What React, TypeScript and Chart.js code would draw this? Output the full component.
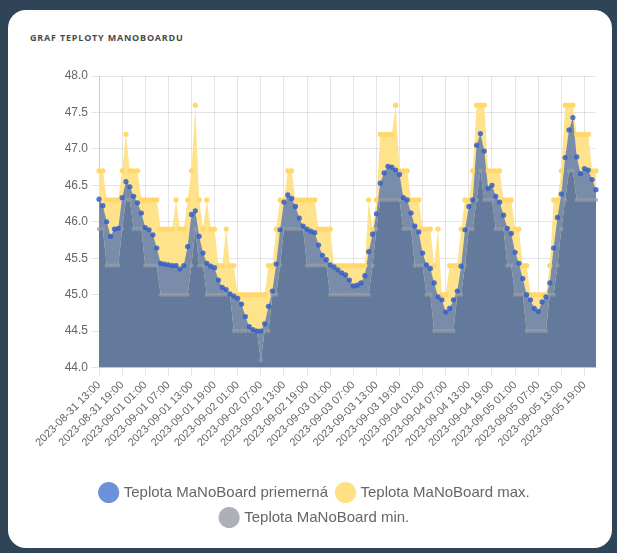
import React, { useEffect, useRef } from 'react';
import { Chart, registerables } from 'chart.js';

Chart.register(...registerables);

// ---- DATA ----
const days: string[] = ['2023-08-31', '2023-09-01', '2023-09-02', '2023-09-03', '2023-09-04', '2023-09-05'];
const startHour = 13;
const pointCount = 130;
const categories: string[] = [];
for (let i = 0; i < pointCount; i++) {
  const h = startHour + i;
  categories.push(`${days[Math.floor(h / 24)]} ${String(h % 24).padStart(2, '0')}:00`);
}

const avgTemp: number[] = [
  46.31, 46.22, 46.0, 45.8, 45.9, 45.91, 46.33, 46.55, 46.48, 46.35,
  46.26, 46.12, 45.92, 45.89, 45.82, 45.64, 45.43, 45.42, 45.41, 45.4,
  45.4, 45.35, 45.4, 45.66, 46.1, 46.15, 45.8, 45.57, 45.43, 45.39,
  45.37, 45.2, 45.1, 45.07, 45.01, 44.98, 44.95, 44.87, 44.7, 44.56,
  44.52, 44.5, 44.5, 44.6, 44.84, 45.05, 45.42, 45.89, 46.27, 46.37,
  46.32, 46.21, 46.05, 45.94, 45.9, 45.87, 45.85, 45.68, 45.54, 45.48,
  45.41, 45.38, 45.34, 45.3, 45.27, 45.2, 45.12, 45.13, 45.16, 45.26,
  45.59, 45.83, 46.11, 46.53, 46.67, 46.76, 46.75, 46.71, 46.65, 46.33,
  46.3, 46.12, 45.94, 45.86, 45.57, 45.41, 45.36, 45.16, 44.97, 44.93,
  44.76, 44.81, 44.93, 45.05, 45.39, 45.89, 46.21, 46.3, 47.05, 47.21,
  46.97, 46.46, 46.5, 46.35, 46.27, 46.09, 45.91, 45.84, 45.58, 45.43,
  45.22, 45.0, 44.93, 44.81, 44.77, 44.9, 44.97, 45.16, 45.64, 46.06,
  46.38, 46.88, 47.26, 47.43, 46.89, 46.66, 46.73, 46.71, 46.58, 46.44,
];

const maxTemp: number[] = [
  46.7, 46.7, 46.3, 46.3, 46.3, 46.3, 46.7, 47.2, 46.7, 46.7,
  46.7, 46.3, 46.3, 46.3, 46.3, 46.3, 45.9, 45.9, 45.9, 45.9,
  46.3, 45.9, 45.9, 46.3, 46.7, 47.6, 46.3, 45.9, 46.3, 45.9,
  45.9, 45.4, 45.4, 45.9, 45.4, 45.4, 45.0, 45.0, 45.0, 45.0,
  45.0, 45.0, 45.0, 45.0, 45.4, 45.4, 45.9, 46.3, 46.3, 46.7,
  46.7, 46.3, 46.3, 46.3, 46.3, 46.3, 46.3, 45.9, 45.9, 45.9,
  45.9, 45.4, 45.4, 45.4, 45.4, 45.4, 45.4, 45.4, 45.4, 45.4,
  46.3, 45.9, 46.3, 47.2, 47.2, 47.2, 47.2, 47.6, 46.7, 46.7,
  46.7, 46.3, 46.3, 46.3, 45.9, 45.9, 45.9, 45.4, 45.9, 45.0,
  45.0, 45.4, 45.4, 45.4, 45.9, 46.3, 46.3, 46.7, 47.6, 47.6,
  47.6, 46.7, 46.7, 46.7, 46.7, 46.3, 46.3, 46.3, 45.9, 45.9,
  45.4, 45.4, 45.0, 45.0, 45.0, 45.0, 45.0, 45.4, 46.3, 46.3,
  46.7, 47.6, 47.6, 47.6, 47.2, 47.2, 47.2, 47.2, 46.7, 46.7,
];

const minTemp: number[] = [
  45.9, 45.9, 45.4, 45.4, 45.4, 45.4, 45.9, 46.3, 46.3, 45.9,
  45.9, 45.9, 45.4, 45.4, 45.4, 45.4, 45.0, 45.0, 45.0, 45.0,
  45.0, 45.0, 45.0, 45.0, 45.4, 45.9, 45.4, 45.4, 45.0, 45.0,
  45.0, 45.0, 45.0, 45.0, 45.0, 44.5, 44.5, 44.5, 44.5, 44.5,
  44.5, 44.5, 44.1, 44.5, 44.5, 45.0, 45.0, 45.4, 45.9, 45.9,
  45.9, 45.9, 45.9, 45.9, 45.4, 45.4, 45.4, 45.4, 45.4, 45.4,
  45.0, 45.0, 45.0, 45.0, 45.0, 45.0, 45.0, 45.0, 45.0, 45.0,
  45.0, 45.4, 45.9, 46.3, 46.3, 46.3, 46.3, 46.3, 46.3, 45.9,
  45.9, 45.9, 45.4, 45.4, 45.4, 45.0, 45.0, 44.5, 44.5, 44.5,
  44.5, 44.5, 44.5, 45.0, 45.0, 45.4, 45.9, 45.9, 46.3, 46.7,
  46.3, 46.3, 46.3, 45.9, 45.9, 45.9, 45.4, 45.4, 45.0, 45.0,
  45.0, 44.5, 44.5, 44.5, 44.5, 44.5, 44.5, 45.0, 45.0, 45.4,
  45.9, 46.3, 46.7, 46.7, 46.3, 46.3, 46.3, 46.3, 46.3, 46.3,
];

const seriesNames: string[] = ['Teplota MaNoBoard priemerná', 'Teplota MaNoBoard max.', 'Teplota MaNoBoard min.'];
const yTicks: number[] = [44.0, 44.5, 45.0, 45.5, 46.0, 46.5, 47.0, 47.5, 48.0];
const legendColors = ['rgb(110,144,219)', 'rgb(255,224,130)', 'rgb(172,176,184)'];

export default function App() {
  const ref = useRef<HTMLCanvasElement | null>(null);

  useEffect(() => {
    if (!ref.current) return;
    const chart = new Chart(ref.current, {
      type: 'line',
      data: {
        labels: categories,
        datasets: [
          {
            label: seriesNames[0],
            data: avgTemp,
            order: 0,
            fill: { target: 2 },
            backgroundColor: 'rgb(121,141,171)',
            borderColor: 'rgba(0,0,0,0)',
            borderWidth: 1,
            pointRadius: 2.6,
            pointBorderWidth: 0,
            pointBackgroundColor: 'rgba(52,94,200,0.85)',
            tension: 0,
          },
          {
            label: seriesNames[1],
            data: maxTemp,
            order: 2,
            fill: 'origin',
            backgroundColor: 'rgb(255,226,140)',
            borderColor: 'rgba(0,0,0,0)',
            borderWidth: 1,
            pointRadius: 2.6,
            pointBorderWidth: 0,
            pointBackgroundColor: 'rgb(255,216,105)',
            tension: 0,
          },
          {
            label: seriesNames[2],
            data: minTemp,
            order: 1,
            fill: 'origin',
            backgroundColor: 'rgb(99,122,156)',
            borderColor: 'rgba(0,0,0,0)',
            borderWidth: 1,
            pointRadius: 2.2,
            pointBorderWidth: 0,
            pointBackgroundColor: 'rgba(150,156,168,0.7)',
            tension: 0,
          },
        ],
      },
      options: {
        animation: false,
        responsive: false,
        maintainAspectRatio: false,
        layout: { padding: { left: 15, right: 14, top: 16, bottom: 5 } },
        plugins: {
          filler: { drawTime: 'beforeDatasetsDraw' },
          tooltip: { enabled: false },
          legend: {
            position: 'bottom',
            labels: {
              usePointStyle: true,
              pointStyle: 'circle',
              font: { size: 15 },
              color: '#666',
              padding: 10,
              generateLabels: (c: any) => {
                const items = Chart.defaults.plugins.legend.labels.generateLabels(c);
                return items
                  .map((it: any) => ({
                    ...it,
                    fillStyle: legendColors[it.datasetIndex],
                    strokeStyle: legendColors[it.datasetIndex],
                    lineWidth: 0,
                    pointStyle: 'circle',
                  }))
                  .sort((a: any, b: any) => a.datasetIndex - b.datasetIndex);
              },
            },
          },
        },
        scales: {
          x: {
            afterFit: (s: any) => { s.height = 107.5; },
            grid: {
              color: (ctx: any) => (ctx.index % 6 === 0 ? 'rgba(0,0,0,0.1)' : 'rgba(0,0,0,0)'),
            },
            ticks: {
              autoSkip: false,
              minRotation: 45,
              maxRotation: 45,
              color: '#666',
              font: { size: 11 },
              callback: (_v: any, i: number) => (i % 6 === 0 ? categories[i] : ''),
            },
          },
          y: {
            min: yTicks[0],
            max: yTicks[yTicks.length - 1],
            afterFit: (s: any) => { s.width = 64; },
            afterBuildTicks: (s: any) => { s.ticks = yTicks.map((v) => ({ value: v })); },
            grid: { color: 'rgba(0,0,0,0.1)' },
            ticks: {
              color: '#666',
              font: { size: 12 },
              callback: (v: any) => Number(v).toFixed(1),
            },
          },
        },
      },
    });
    return () => chart.destroy();
  }, []);

  return (
    <div style={{ position: 'absolute', left: 0, top: 0, width: 617, height: 553, background: '#2f4557', overflow: 'hidden' }}>
      <div style={{ position: 'absolute', left: 8, top: 10, width: 604, height: 538, background: '#fff', borderRadius: 18 }} />
      <div
        style={{
          position: 'absolute', left: 30, top: 31, fontFamily: '"Open Sans", sans-serif', fontWeight: 700,
          fontSize: 9, letterSpacing: 0.8, color: '#4a4a4a', whiteSpace: 'nowrap',
        }}
      >
        GRAF TEPLOTY MANOBOARDU
      </div>
      <canvas ref={ref} width={590} height={480} style={{ position: 'absolute', left: 20, top: 60, width: 590, height: 480 }} />
    </div>
  );
}
